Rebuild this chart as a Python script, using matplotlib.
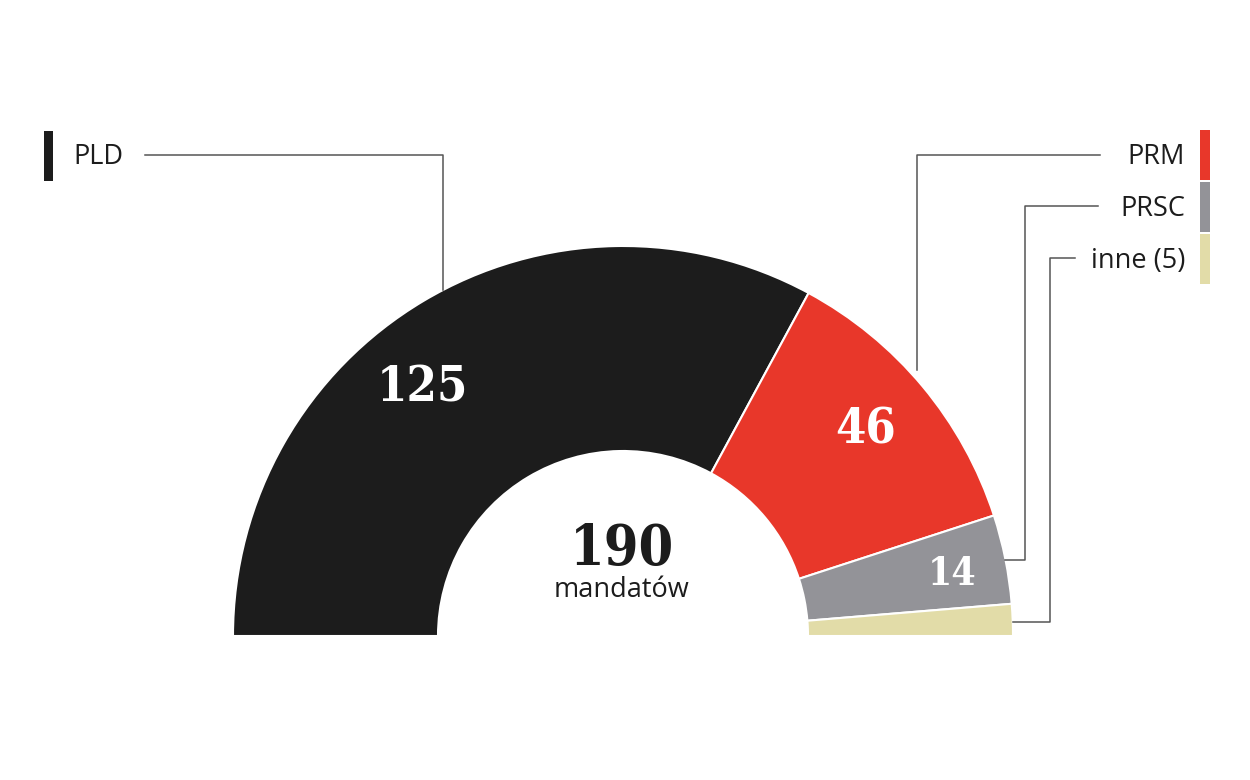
import matplotlib.pyplot as plt
from matplotlib.patches import Wedge, Rectangle

# data
parties = ['PLD', 'PRM', 'PRSC', 'inne (5)']
seats = [125, 46, 14, 5]
colors = ['#1c1c1c', '#e8372a', '#939398', '#e2dca8']
total = sum(seats)

H = 780
def Y(y):
    # pixel row -> data y
    return H - y

fig = plt.figure(figsize=(12.5, 7.8), dpi=100)
ax = fig.add_axes([0, 0, 1, 1])
ax.set_xlim(0, 1250)
ax.set_ylim(0, H)
ax.axis('off')

cx, cy = 623, Y(636)
r_out, r_in = 390, 185

# half donut, left to right
start = 180.0
for v, c in zip(seats, colors):
    span = 180.0 * v / total
    w = Wedge((cx, cy), r_out, start - span, start, width=r_out - r_in,
              facecolor=c, edgecolor='white', linewidth=1.5)
    ax.add_patch(w)
    start -= span

num_font = dict(family='DejaVu Serif', weight='bold', stretch='condensed',
                ha='center', va='center')
ax.text(422, Y(388), str(seats[0]), fontsize=35, color='white', **num_font)
ax.text(866, Y(430), str(seats[1]), fontsize=35, color='white', **num_font)
ax.text(952, Y(574), str(seats[2]), fontsize=28, color='white', **num_font)

ax.text(622, Y(550), str(total), fontsize=40, color='#1c1c1c', **num_font)
ax.text(622, Y(590), 'mandatów', fontsize=19.5, family='Open Sans',
        color='#1c1c1c', ha='center', va='center')

lc = '#555555'
lw = 1.1
# leader lines
ax.plot([145, 443, 443], [Y(155), Y(155), Y(290)], color=lc, lw=lw)
ax.plot([1100, 917, 917], [Y(155), Y(155), Y(370)], color=lc, lw=lw)
ax.plot([1098, 1025, 1025, 1005], [Y(206), Y(206), Y(560), Y(560)], color=lc, lw=lw)
ax.plot([1075, 1050, 1050, 1013], [Y(258), Y(258), Y(622), Y(622)], color=lc, lw=lw)

# legend labels and color bars
lab = dict(fontsize=19.5, family='Open Sans', color='#1c1c1c', va='center')
ax.add_patch(Rectangle((44, Y(181)), 9, 50, facecolor=colors[0], edgecolor='none'))
ax.text(73, Y(157), parties[0], ha='left', **lab)

ys = [157, 209, 261]
for name, c, y in zip(parties[1:], colors[1:], ys):
    ax.add_patch(Rectangle((1200, Y(y + 23)), 10, 50, facecolor=c, edgecolor='none'))
    ax.text(1185, Y(y), name, ha='right', **lab)

fig.savefig('out.png', dpi=100, facecolor='white')
